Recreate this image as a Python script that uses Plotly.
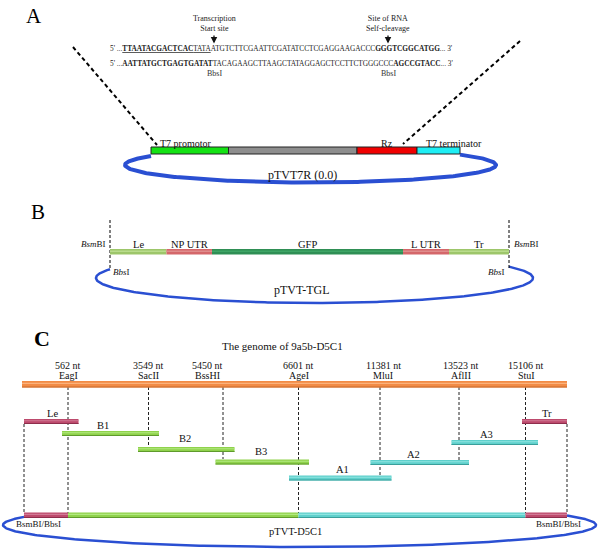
import numpy as np
import plotly.graph_objects as go

SERIF = "Liberation Serif"

# ================= Panel A : pTVT7R (0.0) cassette =================
a_parts = ["T7 promotor", "", "Rz", "T7 terminator"]
a_edges = [151, 228.5, 357, 417, 460]            # schematic segment bounds
a_fill = ["#14e214", "#8e8e8e", "#f00000", "#1eeef4"]
a_part_anchor = ["left", "center", "center", "left"]
a_seq_top = ("5' ...<b><u>TTAATACGACTCAC</u></b><u>TATA</u>ATGTCTTCGAATTCGATATCCTCGAGGAAGACCC"
             "<b>GGGTCGGCATGG</b>... 3'")
a_seq_bot = ("5' ...<b>AATTATGCTGAGTGATAT</b>TACAGAAGCTTAAGCTATAGGAGCTCCTTCTGGGCCC"
             "<b>AGCCGTACC</b>... 3'")
a_sites = ["Transcription<br>Start site", "Site of RNA<br>Self-cleavage"]
a_site_x = [214, 388]
a_enzymes = ["BbsI", "BbsI"]
a_name = "pTVT7R (0.0)"

# ================= Panel B : pTVT-TGL =================
b_parts = ["Le", "NP UTR", "GFP", "L UTR", "Tr"]
b_edges = [110, 166.5, 212, 403, 449, 509]
b_fill = ["#9dc66a", "#d4676a", "#2f8f55", "#d4676a", "#9dc66a"]
b_light = ["#b9dc8c", "#e08c8c", "#3ea565", "#e08c8c", "#b9dc8c"]
b_name = "pTVT-TGL"

# ================= Panel C : pTVT-D5C1 =================
c_title = "The genome of 9a5b-D5C1"
c_site_nt = [562, 3549, 5450, 6601, 11381, 13523, 15106]
c_site_enz = ["EagI", "SacII", "BssHI", "AgeI", "MluI", "AflII", "StuI"]
c_site_x = [68, 148.5, 223, 298.5, 380, 459, 525.5]
c_label_x = [68, 148, 207, 298.5, 383, 461, 526]
c_site_end = [513, 447, 459, 513, 476, 460, 513]
c_frag = ["Le", "B1", "B2", "B3", "A1", "A2", "A3", "Tr"]
c_frag_x0 = [24, 62, 138, 215.5, 289, 370.5, 451.5, 522]
c_frag_x1 = [78.5, 159, 234.5, 309, 391.5, 469, 538, 567]
c_frag_y = [419, 431, 447, 459.5, 475.5, 460, 440, 419]
c_frag_lab_x = [52, 103, 184.5, 261, 342, 413, 486, 547]
c_frag_lab_y = [413, 425, 438, 451, 469.5, 454, 434, 413]
c_frag_kind = ["end", "B", "B", "B", "A", "A", "A", "end"]
c_vec_edges = [24, 68, 298.5, 525.5, 567]
c_vec_kind = ["end", "B", "A", "end"]
c_name = "pTVT-D5C1"

kind_fill = {"end": "#bd4a6d", "B": "#8fd24b", "A": "#5fd0cc"}
kind_dark = {"end": "#8e2e4c", "B": "#5f9a2c", "A": "#3a9f9b"}
kind_light = {"end": "#d27a95", "B": "#b2e880", "A": "#8fe4e0"}

BLUE = "#2a4fd2"

fig = go.Figure()
shapes = []
ann = []


def text(x, y, s, size=10, anchor="center", color="#111", yanchor="middle", bold=False):
    if bold:
        s = "<b>" + s + "</b>"
    ann.append(dict(x=x, y=y, xref="x", yref="y", text=s, showarrow=False,
                    xanchor=anchor, yanchor=yanchor,
                    font=dict(family=SERIF, size=size, color=color)))


def rect(x0, x1, y0, y1, fill, line=None, lw=0):
    shapes.append(dict(type="rect", xref="x", yref="y", x0=x0, x1=x1, y0=y0, y1=y1,
                       fillcolor=fill, line=dict(color=line or fill, width=lw), layer="above"))


def line(x0, y0, x1, y1, color="#000", width=1, dash="solid"):
    shapes.append(dict(type="line", xref="x", yref="y", x0=x0, y0=y0, x1=x1, y1=y1,
                       line=dict(color=color, width=width, dash=dash), layer="above"))


def bar3d(x0, x1, y0, y1, fill, light, dark):
    rect(x0, x1, y0, y1, fill)
    h = y1 - y0
    line(x0, y0 + h * 0.35, x1, y0 + h * 0.35, light, 1.2)
    line(x0, y1 - 0.5, x1, y1 - 0.5, dark, 1)


def ellipse_arc(cx, cy, rx, ry, xl, xr, width):
    tr = -np.arccos((xr - cx) / rx)
    tl = 2 * np.pi - np.arccos((xl - cx) / rx)
    t = np.linspace(tr, tl, 300)
    fig.add_trace(go.Scatter(x=cx + rx * np.cos(t), y=cy + ry * np.sin(t), mode="lines",
                             line=dict(color=BLUE, width=width), hoverinfo="skip",
                             showlegend=False))


# ---------------- Panel A ----------------
text(34, 16, "A", size=21, color="#000")
for sx, lab in zip(a_site_x, a_sites):
    text(sx, 23, lab, size=8, color="#222")
    ann.append(dict(x=sx, y=43.5, ax=sx, ay=34, xref="x", yref="y", axref="x", ayref="y",
                    text="", showarrow=True, arrowhead=2, arrowsize=1, arrowwidth=1.3,
                    arrowcolor="#111"))
text(108, 48, a_seq_top, size=7.3, anchor="left", color="#222")
text(108, 63, a_seq_bot, size=7.3, anchor="left", color="#222")
for sx, lab in zip(a_site_x, a_enzymes):
    text(sx, 73.5, lab, size=8, color="#333")

ellipse_arc(310.5, 165, 185.5, 17.5, a_edges[0], a_edges[-1], 4)
line(73, 47, 157, 145, "#000", 2, "4px,3px")
line(520, 41, 403, 144, "#000", 2, "4px,3px")
for i, name in enumerate(a_parts):
    rect(a_edges[i], a_edges[i + 1], 147, 154, a_fill[i], "#222", 1)
    if name:
        if a_part_anchor[i] == "left":
            text(a_edges[i] + 7, 143, name, size=10, anchor="left", color="#111")
        else:
            text((a_edges[i] + a_edges[i + 1]) / 2, 143, name, size=10, color="#111")
text(302, 175, a_name, size=12, color="#111")

# ---------------- Panel B ----------------
text(38, 212, "B", size=21, color="#000")
ellipse_arc(314.5, 278, 218.5, 25, b_edges[0], b_edges[-1], 2.5)
for xv in (b_edges[0], b_edges[-1]):
    line(xv, 220, xv, 268, "#000", 1, "3px,2px")
for i, name in enumerate(b_parts):
    x0, x1 = b_edges[i], b_edges[i + 1]
    rect(x0, x1, 249, 254.5, b_fill[i])
    line(x0, 251.3, x1, 251.3, b_light[i], 1.5)
    text((x0 + x1) / 2, 244, name, size=10.5, color="#111")
text(108, 244, "<i>Bsm</i>BI", size=9, anchor="right", color="#111")
text(512, 244, "<i>Bsm</i>BI", size=9, anchor="left", color="#111")
text(111, 272, "<i>Bbs</i>I", size=9, anchor="left", color="#111")
text(507, 272, "<i>Bbs</i>I", size=9, anchor="right", color="#111")
text(302, 290, b_name, size=12, color="#111")

# ---------------- Panel C ----------------
text(42, 338, "C", size=22, color="#000", bold=True)
text(282, 346, c_title, size=11, color="#111")
for nt, enz, sx, lx, yend in zip(c_site_nt, c_site_enz, c_site_x, c_label_x, c_site_end):
    text(lx, 365, f"{nt} nt", size=10, color="#111")
    text(lx, 375.5, enz, size=10, color="#111")
    line(sx, 387, sx, yend, "#222", 1, "3px,2px")
line(c_frag_x0[0], 424, c_frag_x0[0], 513, "#222", 1, "3px,2px")
line(c_frag_x1[-1], 424, c_frag_x1[-1], 513, "#222", 1, "3px,2px")

ellipse_arc(299.5, 525, 296.5, 22, c_vec_edges[0], c_vec_edges[-1], 2.5)
bar3d(22, 567, 381, 387.5, "#f28b46", "#fbb27c", "#c96a2c")
for name, x0, x1, y, lx, ly, k in zip(c_frag, c_frag_x0, c_frag_x1, c_frag_y,
                                      c_frag_lab_x, c_frag_lab_y, c_frag_kind):
    bar3d(x0, x1, y, y + 5, kind_fill[k], kind_light[k], kind_dark[k])
    text(lx, ly, name, size=10.5, color="#111")
for i, k in enumerate(c_vec_kind):
    bar3d(c_vec_edges[i], c_vec_edges[i + 1], 512.5, 518, kind_fill[k], kind_light[k], kind_dark[k])
text(38, 524, "BsmBI/BbsI", size=9, color="#111")
text(558, 524, "BsmBI/BbsI", size=9, color="#111")
text(295, 531, c_name, size=10.5, color="#111")

fig.update_layout(
    width=600, height=557,
    margin=dict(l=0, r=0, t=0, b=0),
    paper_bgcolor="white", plot_bgcolor="white",
    xaxis=dict(range=[0, 600], visible=False, fixedrange=True),
    yaxis=dict(range=[557, 0], visible=False, fixedrange=True),
    shapes=shapes, annotations=ann, showlegend=False,
)
fig.write_html("out.html", config={"displayModeBar": False},
               post_script="document.body.style.margin='0';document.body.style.overflow='hidden';")
